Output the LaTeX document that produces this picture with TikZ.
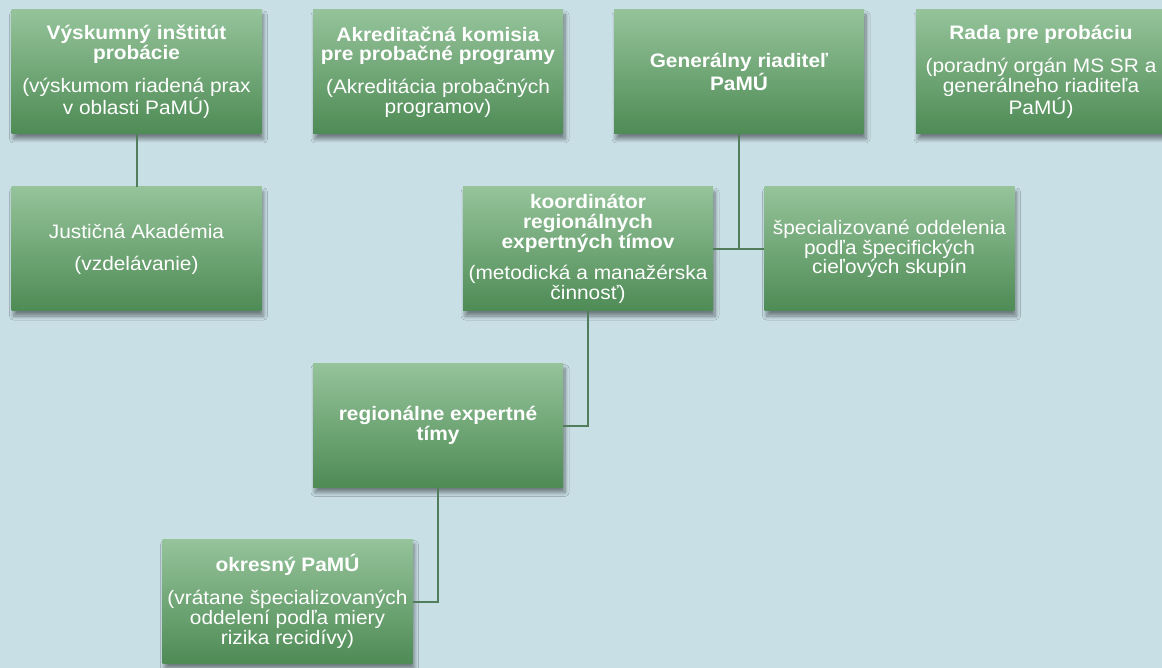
\documentclass[tikz,border=0pt]{standalone}
\usepackage{fontspec}
\setmainfont{Liberation Sans}[FakeStretch=1.07]
\usetikzlibrary{shadows.blur}
\definecolor{bgblue}{HTML}{C9DFE6}
\definecolor{boxtop}{HTML}{95C39A}
\definecolor{boxbot}{HTML}{4E8B55}
\definecolor{linkgreen}{HTML}{527D5A}
\tikzset{
  orgbox/.style={rectangle, minimum width=250pt, minimum height=124pt,
    inner sep=0pt, top color=boxtop, bottom color=boxbot, draw=none,
    text=white, align=center,
    font=\fontsize{19.5}{19.8}\selectfont,
    blur shadow={shadow xshift=2pt, shadow yshift=-5pt,
      shadow blur radius=4pt, shadow blur steps=8, shadow opacity=45}},
  link/.style={draw=linkgreen, line width=2pt}
}
\begin{document}
\begin{tikzpicture}[x=1pt, y=-1pt]
  \fill[bgblue] (0,0) rectangle (1162,668);
  \useasboundingbox (0,0) rectangle (1162,668);

  % top row
  \node[orgbox] (vyskum) at (136.5,72)
    {\textbf{Výskumný inštitút}\\\textbf{probácie}\\[13pt]
     (výskumom riadená prax\\v oblasti PaMÚ)};
  \node[orgbox] (akred) at (438,72)
    {\textbf{Akreditačná komisia}\\\textbf{pre probačné programy}\\[13pt]
     (Akreditácia probačných\\programov)};
  \node[orgbox] (gen) at (739,72)
    {\textbf{Generálny riaditeľ}\\\textbf{PaMÚ}};
  \node[orgbox] (rada) at (1041,72)
    {\textbf{Rada pre probáciu}\\[13pt]
     (poradný orgán MS SR a\\generálneho riaditeľa\\PaMÚ)};

  % second row
  \node[orgbox] (justic) at (136.5,249)
    {Justičná Akadémia\\[12pt](vzdelávanie)};
  \node[orgbox] (koord) at (588,249)
    {\textbf{koordinátor}\\\textbf{regionálnych}\\\textbf{expertných tímov}\\[12pt]
     (metodická a manažérska\\činnosť)};
  \node[orgbox] (spec) at (889.5,249)
    {špecializované oddelenia\\podľa špecifických\\cieľových skupín};

  % lower levels
  \node[orgbox] (region) at (438,425.5)
    {\textbf{regionálne expertné}\\\textbf{tímy}};
  \node[orgbox] (okres) at (287.5,601.5)
    {\textbf{okresný PaMÚ}\\[13pt]
     (vrátane špecializovaných\\oddelení podľa miery\\rizika recidívy)};

  % connectors
  \draw[link] (vyskum.south) -- (justic.north);
  \draw[link] (gen.south) |- (koord.east);
  \draw[link] (gen.south) |- (spec.west);
  \draw[link] (koord.south) |- (region.east);
  \draw[link] (region.south) |- (okres.east);
\end{tikzpicture}
\end{document}
